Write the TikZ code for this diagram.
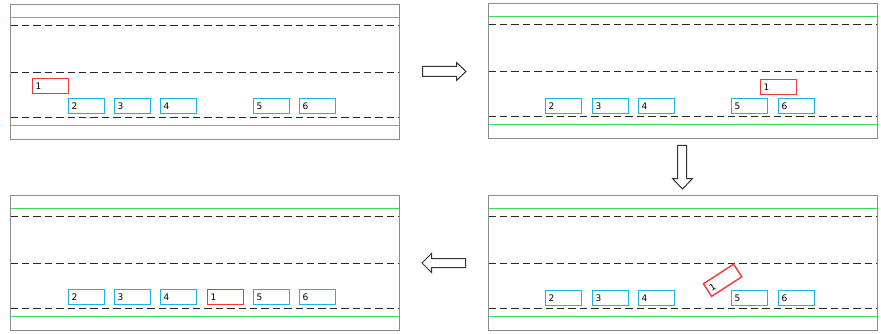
\documentclass[tikz,border=0pt]{standalone}
\usepackage{fontspec}
\setmainfont{DejaVu Sans}
\definecolor{laneGreen}{HTML}{33DD55}
\definecolor{carBlue}{HTML}{1AB4EC}
\definecolor{carRed}{HTML}{F03A3A}
\definecolor{frameGray}{HTML}{8C8C8C}
\newcommand{\roadlines}{%
  \draw[greenline] (0.5,13.5) -- (389.5,13.5);
  \draw[greenline] (0.5,121.5) -- (389.5,121.5);
  \draw[laneline] (0.5,21.5) -- (389.5,21.5);
  \draw[laneline] (0.5,68.5) -- (389.5,68.5);
  \draw[laneline] (0.5,113.5) -- (389.5,113.5);
  \draw[frameline] (0.5,0.5) rectangle (389.5,135.5);
}
\begin{document}
\begin{tikzpicture}[x=1pt,y=-1pt,
  frameline/.style={draw=frameGray,line width=1.5pt},
  greenline/.style={draw=laneGreen,line width=1.7pt},
  laneline/.style={draw=black!85,line width=1.3pt,dash pattern=on 7.5pt off 3.9pt},
  car/.style={draw,line width=1.4pt,rectangle,minimum height=15pt,text width=30pt,inner xsep=3pt,inner ysep=0pt,text height=6.6pt,text depth=0pt,align=left,font=\fontsize{9}{10}\selectfont},
  bluecar/.style={car,draw=carBlue},
  redcar/.style={car,draw=carRed},
  bigarrow/.style={draw=black!80,line width=1pt,fill=white,line join=miter}]
\useasboundingbox (0,0) rectangle (881,334);
% panel 1
\begin{scope}[shift={(10,4)}]
  \roadlines
  \node[redcar] (a1) at (40.5,82) {1};
  \node[bluecar] (a2) at (76.5,102) {2};
  \node[bluecar] (a3) at (122.5,102) {3};
  \node[bluecar] (a4) at (168.5,102) {4};
  \node[bluecar] (a5) at (261.5,102) {5};
  \node[bluecar] (a6) at (307.5,102) {6};
\end{scope}
% panel 2
\begin{scope}[shift={(488,3)}]
  \roadlines
  \node[redcar] (b1) at (290.5,84) {1};
  \node[bluecar] (b2) at (75.5,103) {2};
  \node[bluecar] (b3) at (122.5,103) {3};
  \node[bluecar] (b4) at (168.5,103) {4};
  \node[bluecar] (b5) at (261.5,103) {5};
  \node[bluecar] (b6) at (308.5,103) {6};
\end{scope}
% panel 3
\begin{scope}[shift={(10,195)}]
  \roadlines
  \node[bluecar] (c2) at (76.5,102) {2};
  \node[bluecar] (c3) at (122.5,102) {3};
  \node[bluecar] (c4) at (168.5,102) {4};
  \node[redcar] (c1) at (215.5,102) {1};
  \node[bluecar] (c5) at (261.5,102) {5};
  \node[bluecar] (c6) at (307.5,102) {6};
\end{scope}
% panel 4
\begin{scope}[shift={(488,195)}]
  \roadlines
  \node[bluecar] (d2) at (75.5,103) {2};
  \node[bluecar] (d3) at (122.5,103) {3};
  \node[bluecar] (d4) at (168.5,103) {4};
  \node[redcar,rotate=33] (d1) at (234.6,85.3) {1};
  \node[bluecar] (d5) at (261.5,103) {5};
  \node[bluecar] (d6) at (308.5,103) {6};
\end{scope}
% arrows
\draw[bigarrow] (422.5,66.5) -- (456.5,66.5) -- (456.5,62.5) -- (466,71.5) -- (456.5,80.5) -- (456.5,76.5) -- (422.5,76.5) -- cycle;
\draw[bigarrow] (677.5,145.5) -- (686.5,145.5) -- (686.5,178.5) -- (692.5,178.5) -- (682.5,189) -- (672.5,178.5) -- (677.5,178.5) -- cycle;
\draw[bigarrow] (465.5,258.5) -- (431.5,258.5) -- (431.5,253.5) -- (422,263) -- (431.5,272.5) -- (431.5,267.5) -- (465.5,267.5) -- cycle;
\end{tikzpicture}
\end{document}
